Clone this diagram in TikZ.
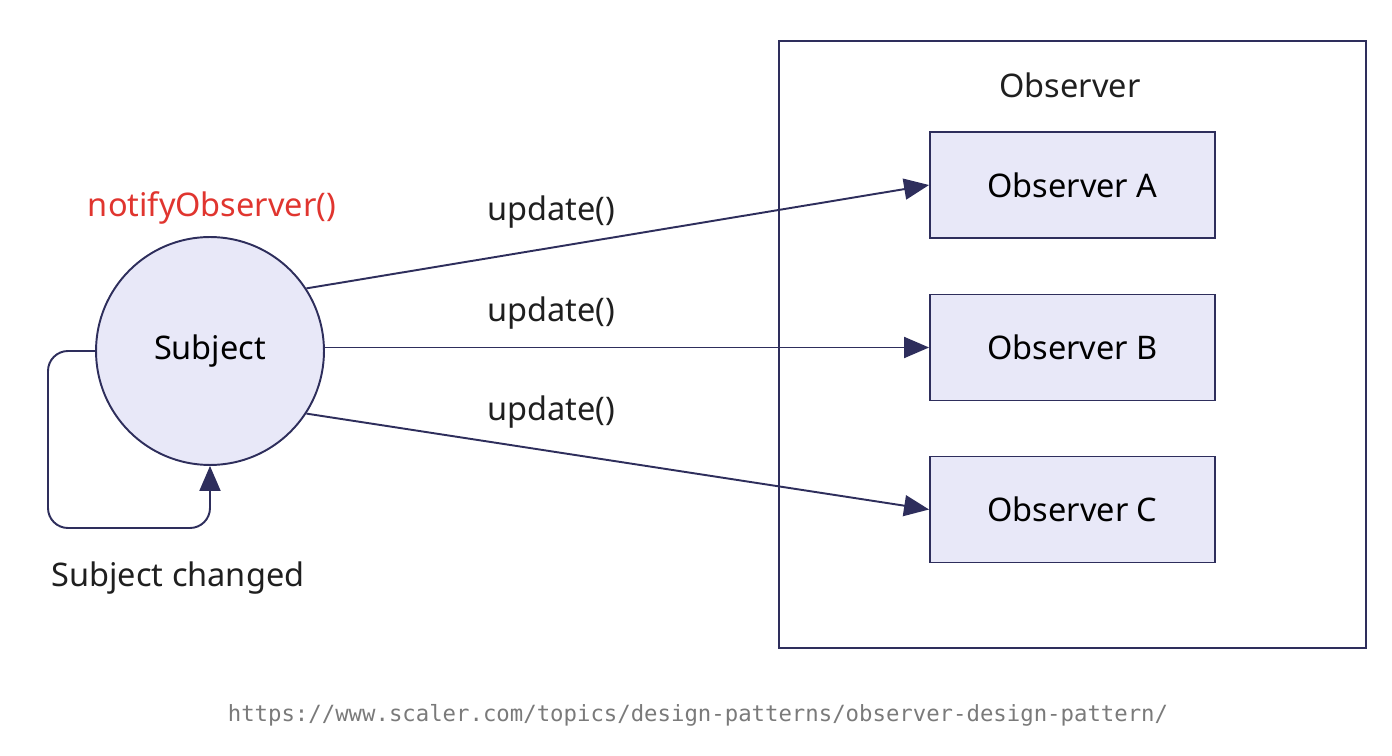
\documentclass[tikz,border=0pt]{standalone}
\usepackage{fontspec}
\setmainfont{Noto Sans}
\newfontfamily\urlfont{DejaVu Sans Mono}
\usetikzlibrary{arrows.meta}
\definecolor{ink}{HTML}{2E2E5C}
\definecolor{lav}{HTML}{E8E8F8}
\definecolor{notered}{HTML}{E0352F}
\definecolor{urlgrey}{HTML}{7A7A7A}
\tikzset{
  obsbox/.style={draw=ink, fill=lav, line width=1.1pt, minimum width=5.7cm, minimum height=2.12cm, font=\fontsize{18.5}{22}\selectfont},
  link/.style={draw=ink, line width=1.1pt, -{Triangle[length=0.5cm, width=0.42cm]}},
  lbl/.style={font=\fontsize{18.5}{22}\selectfont, text=black!88}
}
\begin{document}
\begin{tikzpicture}[x=0.02cm, y=-0.02cm]
\useasboundingbox (0,0) rectangle (1392,756);
% Observer group
\node[draw=ink, line width=1.1pt, minimum width=11.74cm, minimum height=12.14cm] (group) at (1072.5,344.5) {};
\node[lbl] (grouptitle) at (1070,85) {Observer};
\foreach \n/\y in {A/185, B/347.5, C/509.5}
    \node[obsbox] (obs\n) at (1072.5,\y) {Observer \n};
% Subject
\node[draw=ink, fill=lav, line width=1.1pt, circle, minimum size=4.56cm, font=\fontsize{18.5}{22}\selectfont] (subj) at (210,351) {Subject};
\node[font=\fontsize{18.5}{22}\selectfont, text=notered] (notify) at (212,208) {notifyObserver()};
\node[lbl] (changed) at (178,578) {Subject changed};
% Connectors
\draw[link] (subj.33) -- (obsA.west);
\draw[link] (subj.east |- obsB.west) -- (obsB.west);
\draw[link] (subj.-33) -- (obsC.west);
\draw[link, rounded corners=0.4cm] (subj.west) -| (48,528) -| (subj.south);
% update labels
\node[lbl] (upA) at (551,212) {update()};
\node[lbl] (upB) at (551,313) {update()};
\node[lbl] (upC) at (551,412) {update()};
\node[font=\urlfont\fontsize{12.7}{15}\selectfont, text=urlgrey] (url) at (698,715) {https://www.scaler.com/topics/design-patterns/observer-design-pattern/};
\end{tikzpicture}
\end{document}
